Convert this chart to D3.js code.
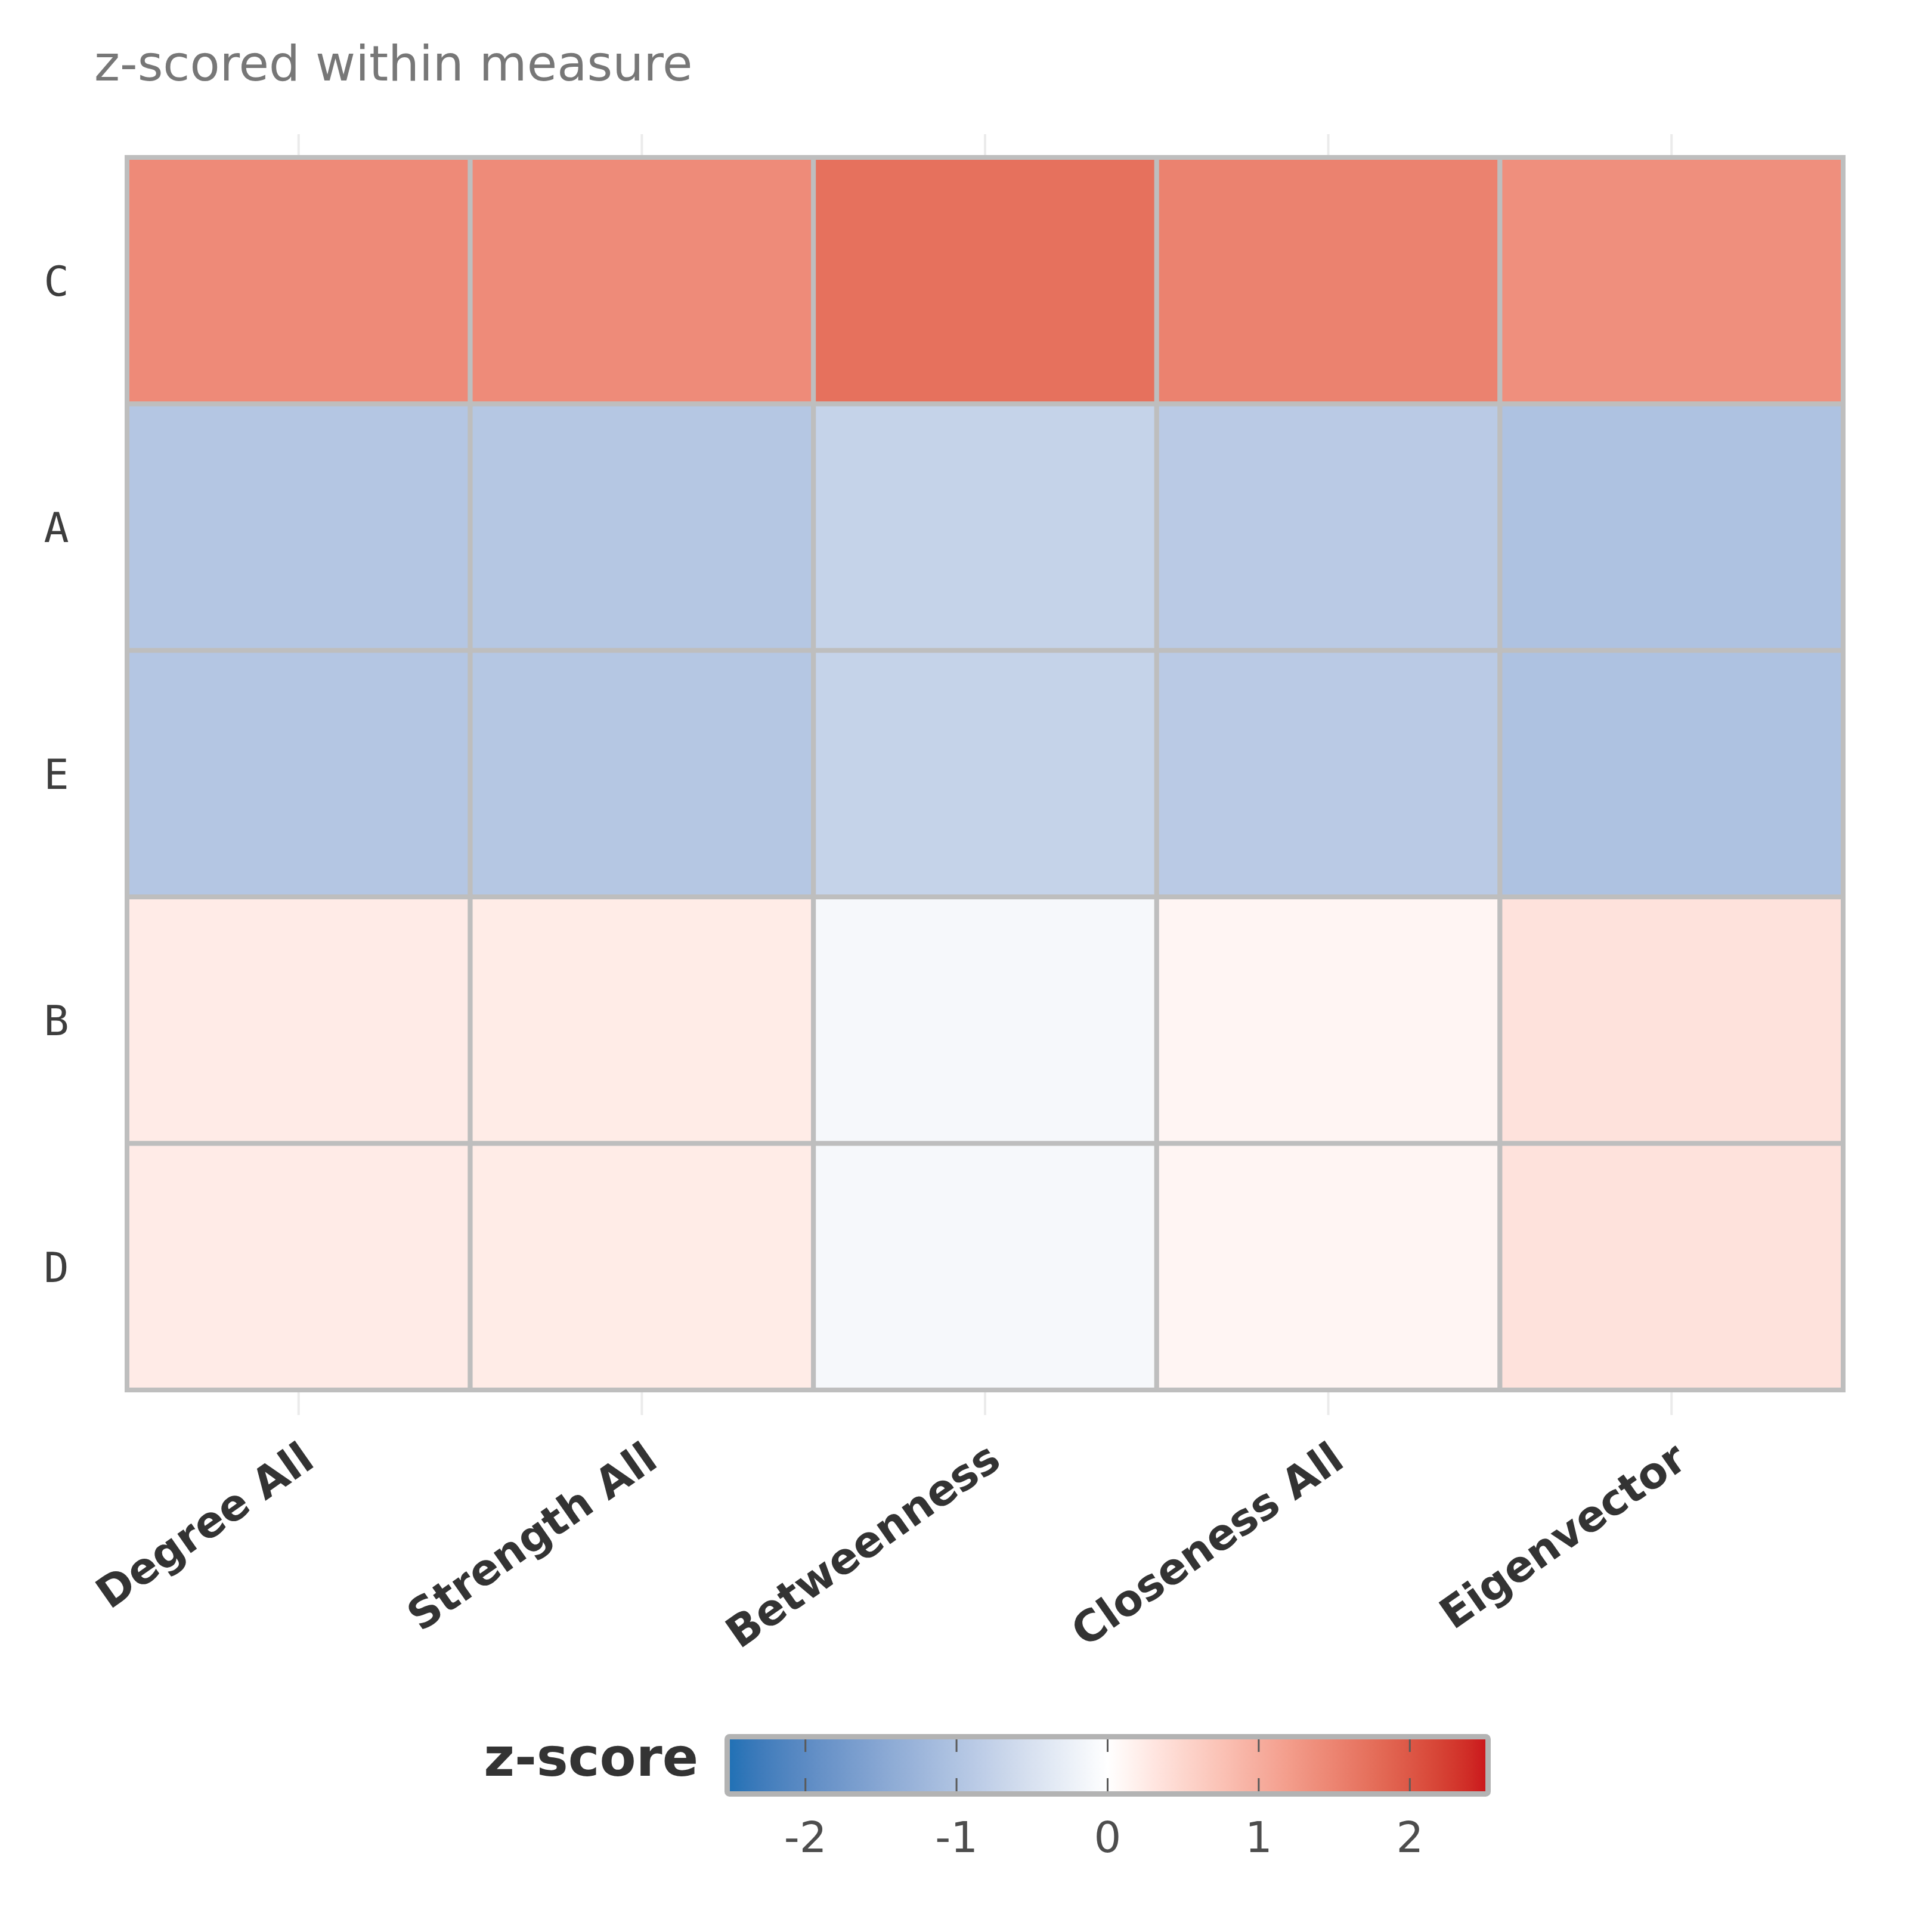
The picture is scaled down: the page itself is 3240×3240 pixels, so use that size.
<!DOCTYPE html>
<html>
<head>
<meta charset="utf-8">
<script src="https://cdn.jsdelivr.net/npm/d3@7/dist/d3.min.js"></script>
<style>
  html, body { margin: 0; padding: 0; background: #ffffff; }
  svg { display: block; }
</style>
</head>
<body>
<script>
// ---- data ----
const measures = ["Degree All", "Strength All", "Betweenness", "Closeness All", "Eigenvector"];
const nodes = ["C", "A", "E", "B", "D"];
// z-scores per node, in measure order
const zC = [1.42, 1.41, 1.72, 1.52, 1.36];
const zA = [-0.95, -0.94, -0.74, -0.88, -1.03];
const zE = [-0.95, -0.94, -0.74, -0.88, -1.03];
const zB = [0.24, 0.235, -0.12, 0.12, 0.35];
const zD = [0.24, 0.235, -0.12, 0.12, 0.35];
const legendTicks = [-2, -1, 0, 1, 2];
const legendDomain = [-2.5, 2.5];
const titleText = "z-scored within measure";
const legendTitle = "z-score";

const rows = { C: zC, A: zA, E: zE, B: zB, D: zD };
const cells = [];
nodes.forEach(n => measures.forEach((m, i) => cells.push({ node: n, measure: m, z: rows[n][i] })));

// ---- layout ----
const W = 3240, H = 3240;
const svg = d3.select("body").append("svg").attr("width", W).attr("height", H)
  .style("background", "#ffffff");

const x = d3.scaleBand().domain(measures).range([213, 3091]).padding(0);
const y = d3.scaleBand().domain(nodes).range([264, 2331]).padding(0);

const color = d3.scaleLinear()
  .domain([legendDomain[0], 0, legendDomain[1]])
  .range(["#2171b5", "#ffffff", "#cb181d"])
  .interpolate(d3.interpolateLab)
  .clamp(true);

// title
svg.append("text")
  .attr("x", 158).attr("y", 135)
  .attr("font-family", "DejaVu Sans")
  .attr("font-size", 82)
  .attr("fill", "#777777")
  .text(titleText);

// vertical grid lines
svg.append("g").selectAll("line").data(measures).join("line")
  .attr("x1", d => x(d) + x.bandwidth() / 2)
  .attr("x2", d => x(d) + x.bandwidth() / 2)
  .attr("y1", 225).attr("y2", 2373)
  .attr("stroke", "#ebebeb").attr("stroke-width", 4);

// tiles
svg.append("g").selectAll("rect").data(cells).join("rect")
  .attr("x", d => x(d.measure))
  .attr("y", d => y(d.node))
  .attr("width", x.bandwidth())
  .attr("height", y.bandwidth())
  .attr("fill", d => color(d.z))
  .attr("stroke", "#bebebe")
  .attr("stroke-width", 8);

// y axis labels
svg.append("g").selectAll("text").data(nodes).join("text")
  .attr("x", 94.5)
  .attr("y", d => y(d) + y.bandwidth() / 2)
  .attr("dy", "0.36em")
  .attr("text-anchor", "middle")
  .attr("font-family", "DejaVu Sans Mono")
  .attr("font-size", 70)
  .attr("fill", "#3d3d3d")
  .text(d => d);

// x axis labels (rotated)
svg.append("g").selectAll("text").data(measures).join("text")
  .attr("transform", d => `translate(${x(d) + x.bandwidth() / 2 + 30},2457) rotate(-35)`)
  .attr("text-anchor", "end")
  .attr("font-family", "DejaVu Sans")
  .attr("font-weight", "bold")
  .attr("font-size", 72)
  .attr("fill", "#333333")
  .text(d => d);

// ---- legend ----
const lx = d3.scaleLinear().domain(legendDomain).range([1224, 2491]);
const defs = svg.append("defs");
const grad = defs.append("linearGradient").attr("id", "zgrad")
  .attr("x1", "0%").attr("x2", "100%").attr("y1", "0%").attr("y2", "0%");
const stops = d3.range(0, 1.0001, 0.02);
grad.selectAll("stop").data(stops).join("stop")
  .attr("offset", d => (d * 100) + "%")
  .attr("stop-color", d => color(legendDomain[0] + d * (legendDomain[1] - legendDomain[0])));

svg.append("rect")
  .attr("x", lx(legendDomain[0])).attr("y", 2917)
  .attr("width", lx(legendDomain[1]) - lx(legendDomain[0]))
  .attr("height", 87)
  .attr("fill", "url(#zgrad)");

const tg = svg.append("g");
tg.selectAll("line.t").data(legendTicks).join("line")
  .attr("class", "t")
  .attr("x1", d => lx(d)).attr("x2", d => lx(d))
  .attr("y1", 2912).attr("y2", 2938)
  .attr("stroke", "#5a5a5a").attr("stroke-width", 3);
tg.selectAll("line.b").data(legendTicks).join("line")
  .attr("class", "b")
  .attr("x1", d => lx(d)).attr("x2", d => lx(d))
  .attr("y1", 2982).attr("y2", 3008)
  .attr("stroke", "#5a5a5a").attr("stroke-width", 3);

svg.append("rect")
  .attr("x", lx(legendDomain[0]) - 4.5).attr("y", 2912.5)
  .attr("width", lx(legendDomain[1]) - lx(legendDomain[0]) + 9)
  .attr("height", 96)
  .attr("rx", 4)
  .attr("fill", "none")
  .attr("stroke", "#b3b3b3").attr("stroke-width", 9);

svg.append("g").selectAll("text").data(legendTicks).join("text")
  .attr("x", d => lx(d)).attr("y", 3106)
  .attr("text-anchor", "middle")
  .attr("font-family", "DejaVu Sans")
  .attr("font-size", 72)
  .attr("fill", "#4d4d4d")
  .text(d => d < 0 ? "-" + Math.abs(d) : String(d));

svg.append("text")
  .attr("x", 1171).attr("y", 2978)
  .attr("text-anchor", "end")
  .attr("font-family", "DejaVu Sans")
  .attr("font-weight", "bold")
  .attr("font-size", 89)
  .attr("fill", "#333333")
  .text(legendTitle);
</script>
</body>
</html>
